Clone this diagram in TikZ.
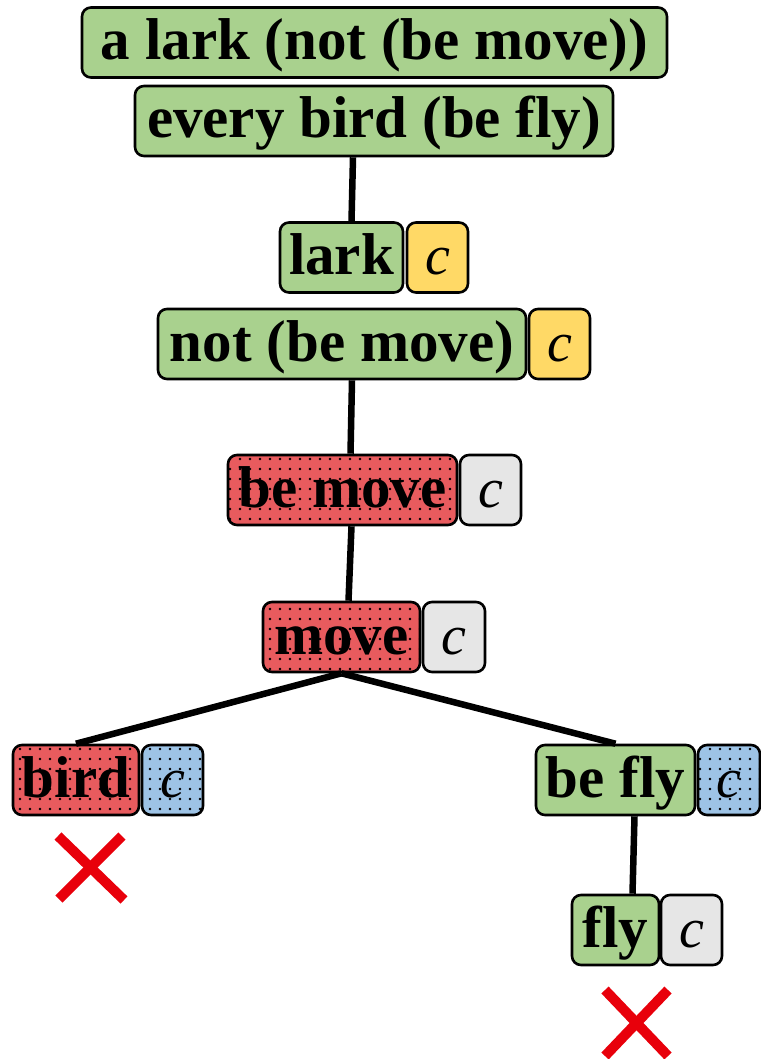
\documentclass[tikz,border=0pt]{standalone}
\usepackage{fontspec}
\setmainfont{Liberation Serif}
\usetikzlibrary{patterns.meta}
\definecolor{boxgreen}{HTML}{A9D18E}
\definecolor{boxred}{HTML}{E85B5E}
\definecolor{boxyellow}{HTML}{FFD966}
\definecolor{boxgray}{HTML}{E6E6E6}
\definecolor{boxblue}{HTML}{9DC3E6}
\definecolor{xred}{HTML}{E8000B}
\tikzset{
  box/.style={draw=black, line width=2.6pt, rounded corners=9pt,
    minimum height=70pt, inner sep=0pt, text height=42pt, text depth=8pt,
    font=\fontsize{59}{62}\selectfont\bfseries, anchor=center},
  dotted fill/.style={preaction={fill=#1},
    pattern={Dots[distance=10pt, radius=1.3pt]}, pattern color=black},
  greenbox/.style={box, fill=boxgreen},
  redbox/.style={box, dotted fill=boxred},
  cbox/.style={box, font=\fontsize{56}{60}\selectfont\itshape},
  cyellow/.style={cbox, fill=boxyellow},
  cgray/.style={cbox, fill=boxgray},
  cblue/.style={cbox, dotted fill=boxblue},
  edge/.style={line width=6.5pt, black},
  crossmark/.style={line width=10pt, xred}
}
\begin{document}
\begin{tikzpicture}[x=1pt, y=-1pt]
  \useasboundingbox (0,0) rectangle (760,1059);

  % premises
  \node[greenbox, minimum width=585pt] (top) at (374.5,42.5) {a lark (not (be move))};
  \node[greenbox, minimum width=478pt] (every) at (374,121) {every bird (be fly)};

  % tree nodes with their contexts
  \node[greenbox, minimum width=123pt] (lark) at (341.5,257.5) {lark};
  \node[cyellow, minimum width=61pt] (clark) at (437.5,257.5) {c};

  \node[greenbox, minimum width=368pt] (not) at (342,344) {not (be move)};
  \node[cyellow, minimum width=61pt] (cnot) at (559.5,344) {c};

  \node[redbox, minimum width=229pt] (bemove) at (342.5,490) {be move};
  \node[cgray, minimum width=61pt] (cbemove) at (490.5,490) {c};

  \node[redbox, minimum width=157pt] (move) at (341.5,637) {move};
  \node[cgray, minimum width=62pt] (cmove) at (454,637) {c};

  \node[redbox, minimum width=126pt] (bird) at (76,780) {bird};
  \node[cblue, minimum width=61pt] (cbird) at (172.5,780) {c};

  \node[greenbox, minimum width=159pt] (befly) at (615.5,780) {be fly};
  \node[cblue, minimum width=62pt] (cbefly) at (729,780) {c};

  \node[greenbox, minimum width=87pt] (fly) at (615.5,930) {fly};
  \node[cgray, minimum width=61pt] (cfly) at (691.5,930) {c};

  % connectors
  \draw[edge] ([xshift=-21pt]every.south) -- ([xshift=10pt]lark.north);
  \draw[edge] ([xshift=10pt]not.south) -- ([xshift=8pt]bemove.north);
  \draw[edge] ([xshift=9pt]bemove.south) -- ([xshift=7pt]move.north);
  \draw[edge] (move.south) -- (bird.north);
  \draw[edge] (move.south) -- (befly.north);
  \draw[edge] ([xshift=19pt]befly.south) -- ([xshift=17pt]fly.north);

  % rejection marks
  \draw[crossmark] (58,836) -- (124,900);
  \draw[crossmark] (122,836) -- (59,899);
  \draw[crossmark] (605,990) -- (668,1056);
  \draw[crossmark] (668,990) -- (605,1056);
\end{tikzpicture}
\end{document}
